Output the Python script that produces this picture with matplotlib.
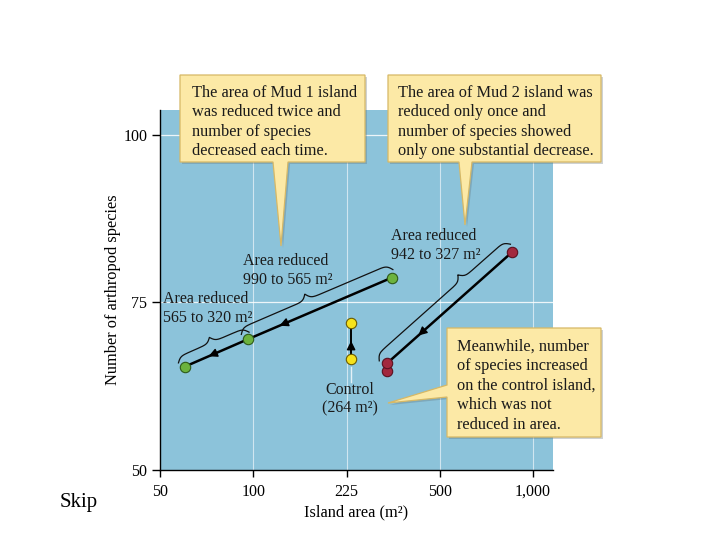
import matplotlib

matplotlib.use("Agg")  # headless
import matplotlib.pyplot as plt  # noqa: E402
import numpy as np  # noqa: E402
from matplotlib.patches import FancyArrowPatch, Polygon  # noqa: E402

plt.rcParams["font.family"] = ["Liberation Serif", "DejaVu Serif"]

# axis ticks (the original axis spaces these evenly)
XTICKS = [50, 100, 225, 500, 1000]
XTICKLABELS = ["50", "100", "225", "500", "1,000"]
YTICKS = [50, 75, 100]

# island area (axis units) / number of arthropod species
MUD1_AREA = [332, 96, 60]
MUD1_SPECIES = [78.7, 69.5, 65.4]
MUD2_AREA = [856, 318]
MUD2_SPECIES = [82.5, 65.9]
MUD2_EXTRA_AREA = [318]
MUD2_EXTRA_SPECIES = [64.7]
CONTROL_AREA = [234, 234]
CONTROL_SPECIES = [66.6, 71.9]

BOX1_TEXT = "The area of Mud 1 island\nwas reduced twice and\nnumber of species\ndecreased each time."
BOX2_TEXT = ("The area of Mud 2 island was\nreduced only once and\nnumber of species showed\n"
             "only one substantial decrease.")
BOX3_TEXT = ("Meanwhile, number\nof species increased\non the control island,\n"
             "which was not\nreduced in area.")

W, H = 720, 540
BLUE = "#8cc3da"
BOX_FILL = "#fce9a6"
BOX_EDGE = "#d6b866"

LT = np.log10(XTICKS)
POS = np.arange(len(XTICKS), dtype=float)


def fwd(x):
    lx = np.log10(np.clip(np.asarray(x, float), 1e-6, None))
    out = np.interp(lx, LT, POS)
    out = np.where(lx < LT[0], (lx - LT[0]) / (LT[1] - LT[0]), out)
    out = np.where(lx > LT[-1], POS[-1] + (lx - LT[-1]) / (LT[-1] - LT[-2]), out)
    return out


def inv(p):
    p = np.asarray(p, float)
    lx = np.interp(p, POS, LT)
    lx = np.where(p < 0, LT[0] + p * (LT[1] - LT[0]), lx)
    lx = np.where(p > POS[-1], LT[-1] + (p - POS[-1]) * (LT[-1] - LT[-2]), lx)
    return 10 ** lx


fig = plt.figure(figsize=(7.2, 5.4), dpi=100)
ax = fig.add_axes([160 / W, 70 / H, 393 / W, 360 / H])
ax.set_facecolor(BLUE)
ax.set_xscale("function", functions=(fwd, inv))
ax.set_xlim(50, 1160)
ax.set_ylim(50, 103.7)
ax.set_xticks(XTICKS, XTICKLABELS)
ax.set_yticks(YTICKS)
ax.minorticks_off()
for s in ("top", "right"):
    ax.spines[s].set_visible(False)
for s in ("left", "bottom"):
    ax.spines[s].set_linewidth(1.0)
ax.tick_params(axis="y", direction="out", length=6, width=1, labelsize=11.5, pad=3)
ax.tick_params(axis="x", direction="out", length=5, width=1, labelsize=11.5, pad=5)
for x in XTICKS[1:]:
    ax.axvline(x, color="white", lw=0.8, alpha=0.6, zorder=0.5)
for y in YTICKS[1:]:
    ax.axhline(y, color="white", lw=0.9, alpha=0.85, zorder=0.5)
ax.set_ylabel("Number of arthropod species", fontsize=11.75, labelpad=2)
ax.set_xlabel("Island area (m²)", fontsize=11.75, labelpad=3)

ax.plot(MUD1_AREA, MUD1_SPECIES, color="k", lw=1.8, zorder=3)
ax.plot(MUD2_AREA, MUD2_SPECIES, color="k", lw=1.8, zorder=3)
ax.plot(CONTROL_AREA, CONTROL_SPECIES, color="k", lw=1.4, zorder=3)
mk = dict(marker="o", ls="none", ms=7.5, mew=0.8, zorder=4)
ax.plot(MUD1_AREA, MUD1_SPECIES, mfc="#6cb33e", mec="#2e5a1a", **mk)
ax.plot(MUD2_EXTRA_AREA, MUD2_EXTRA_SPECIES, mfc="#a2283e", mec="#5a1020", **mk)
ax.plot(MUD2_AREA, MUD2_SPECIES, mfc="#a2283e", mec="#5a1020", **mk)
ax.plot(CONTROL_AREA, CONTROL_SPECIES, mfc="#f6e21c", mec="#6b5a00", **mk)

# overlay in pixel coordinates (y down) for callouts and braces
ov = fig.add_axes([0, 0, 1, 1])
ov.set_xlim(0, W)
ov.set_ylim(H, 0)
ov.axis("off")
ov.patch.set_alpha(0)


def to_px(x, y):
    dx, dy = ax.transData.transform((x, y))
    return np.array([dx, H - dy])


def sig(z):
    return 1 / (1 + np.exp(-z))


def brace(p0, p1, gap=7, depth=12, frac=0.5, ext=4, beta=0.45):
    a, b = to_px(*p0), to_px(*p1)
    d = b - a
    L = np.hypot(*d)
    u = d / L
    n = np.array([u[1], -u[0]])
    start = a - ext * u + gap * n
    lb = L + 2 * ext
    h1, h2 = lb * frac, lb * (1 - frac)
    s1 = np.linspace(0, h1, 80)
    v1 = sig(beta * s1) + sig(beta * (s1 - h1)) - 0.5
    s2 = np.linspace(0, h2, 80)
    v2 = sig(beta * s2) + sig(beta * (s2 - h2)) - 0.5
    s = np.concatenate([s1, lb - s2[::-1]])
    v = np.concatenate([v1, v2[::-1]])
    pts = start + np.outer(s, u) + np.outer(v * depth, n)
    ov.plot(pts[:, 0], pts[:, 1], color="#111111", lw=0.9)


def arrow_head(p0, p1, frac):
    a, b = to_px(*p0), to_px(*p1)
    tip = a + (b - a) * frac
    u = (b - a) / np.hypot(*(b - a))
    ov.add_patch(FancyArrowPatch(tip - 3 * u, tip, arrowstyle="-|>", mutation_scale=13,
                                 color="k", lw=1, shrinkA=0, shrinkB=0))


def callout(box, tail, side):
    x0, y0, x1, y1 = box
    (b1, b2), tip = tail
    if side == "bottom":
        verts = [(x0, y0), (x1, y0), (x1, y1), (b2, y1), tip, (b1, y1), (x0, y1)]
    else:
        verts = [(x0, y0), (x1, y0), (x1, y1), (x0, y1), (x0, b2), tip, (x0, b1)]
    shadow = [(vx + 2, vy + 2) for vx, vy in verts]
    ov.add_patch(Polygon(shadow, closed=True, fc="#5d6a70", ec="none", alpha=0.3))
    ov.add_patch(Polygon(verts, closed=True, fc=BOX_FILL, ec=BOX_EDGE, lw=0.9))


mud1 = list(zip(MUD1_AREA, MUD1_SPECIES))
mud2 = list(zip(MUD2_AREA, MUD2_SPECIES))
ctrl = list(zip(CONTROL_AREA, CONTROL_SPECIES))

brace(mud1[2], mud1[1], gap=6, depth=11, frac=0.5)
brace(mud1[1], mud1[0], gap=7, depth=12, frac=0.45)
brace(mud2[1], mud2[0], gap=7, depth=12, frac=0.66)

arrow_head(mud1[0], mud1[1], 0.78)
arrow_head(mud1[1], mud1[2], 0.62)
arrow_head(mud2[0], mud2[1], 0.75)
arrow_head(ctrl[0], ctrl[1], 0.5)

# pointer from the control label up to the control island
c = to_px(*ctrl[0])
ov.plot([c[0], c[0]], [c[1] + 8, c[1] + 23], color="#e4f1f7", lw=1)

tc = "#1a1a1a"
lab = dict(fontsize=11.5, color=tc, va="top", linespacing=1.22)
ov.text(243, 253, "Area reduced\n990 to 565 m²", **lab)
ov.text(163, 291, "Area reduced\n565 to 320 m²", **lab)
ov.text(391, 228, "Area reduced\n942 to 327 m²", **lab)
ov.text(350, 382, "Control\n(264 m²)", ha="center", **lab)

callout((180, 75, 365, 162), ((273, 288), (281, 246)), "bottom")
callout((388, 75, 601, 162), ((459, 472), (465, 225)), "bottom")
callout((447, 328, 601, 437), ((385, 397), (388, 403)), "left")
box = dict(fontsize=11.8, color=tc, va="top", linespacing=1.29)
ov.text(192, 85, BOX1_TEXT, **box)
ov.text(398, 85, BOX2_TEXT, **box)
ov.text(457, 339, BOX3_TEXT, **box)

fig.text(60 / W, 1 - 503 / H, "Skip", fontsize=15, va="center", ha="left")

fig.savefig("out.png", dpi=100)
